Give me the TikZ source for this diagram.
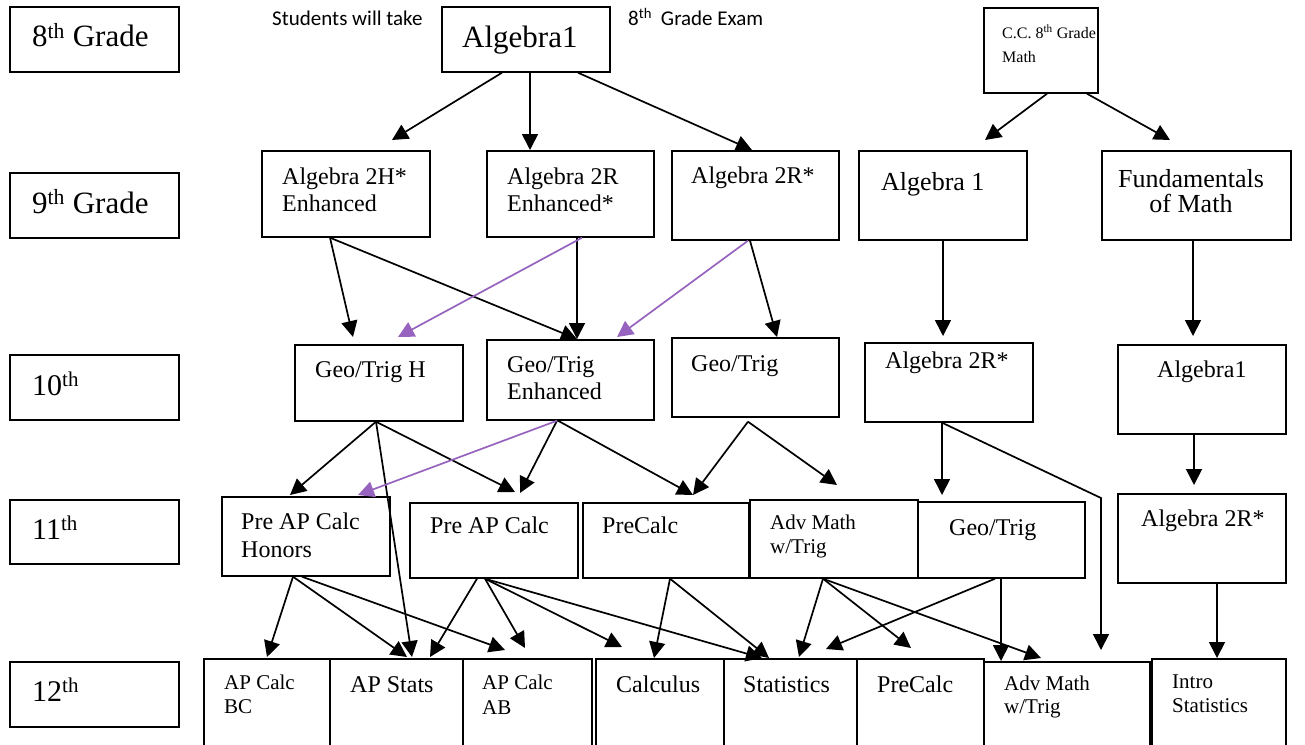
\documentclass[tikz,border=0pt]{standalone}
\usepackage{fontspec}
\setmainfont{Liberation Serif}
\newfontfamily\calfont{Carlito}
\usetikzlibrary{arrows.meta}
\definecolor{purp}{RGB}{150,100,190}
\newcommand\fs[2]{\fontsize{#1bp}{#2bp}\selectfont}
\tikzset{
  box/.style={draw, line width=1.7bp, inner sep=0pt, anchor=north west},
  lbl/.style={anchor=base west, inner sep=0pt, align=left},
  arr/.style={line width=1.7bp, -{Triangle[length=16bp,width=16bp]}},
  parr/.style={arr, color=purp},
}
\begin{document}
\begin{tikzpicture}[x=1bp,y=-1bp]
\useasboundingbox (0,0) rectangle (1305,744);
\fill[white] (0,0) rectangle (1305,744);
\clip (0,0) rectangle (1305,744);
% grade labels
\node[box, minimum width=169bp, minimum height=65bp] (g8) at (9,6) {};
\node[box, minimum width=169bp, minimum height=65bp] (g9) at (9,172) {};
\node[box, minimum width=169bp, minimum height=65bp] (g10) at (9,354) {};
\node[box, minimum width=169bp, minimum height=64bp] (g11) at (9,499) {};
\node[box, minimum width=169bp, minimum height=65bp] (g12) at (9,661) {};
\node[lbl, font=\fs{31}{34}] (tg8) at (32,47) {8\textsuperscript{th} Grade};
\node[lbl, font=\fs{31}{34}] (tg9) at (32,213) {9\textsuperscript{th} Grade};
\node[lbl, font=\fs{30}{34}] (tg10) at (32,395) {10\textsuperscript{th}};
\node[lbl, font=\fs{30}{34}] (tg11) at (32,539) {11\textsuperscript{th}};
\node[lbl, font=\fs{30}{34}] (tg12) at (32,701) {12\textsuperscript{th}};
% 8th grade row
\node[lbl, font=\calfont\fs{21}{24}] (tstud) at (272,26) {Students will take};
\node[lbl, font=\calfont\fs{21}{24}] (texam) at (628,26) {8\textsuperscript{th}\hspace{9bp}Grade Exam};
\node[box, minimum width=168bp, minimum height=65bp] (alg1) at (441,6) {};
\node[lbl, font=\fs{31}{34}] (talg1) at (462,48) {Algebra1};
\node[box, minimum width=114bp, minimum height=85bp] (cc8) at (983,7) {};
\node[lbl, font=\fs{16}{24}] (tcc8) at (1002,63) {C.C. 8\textsuperscript{th} Grade\\Math};
% 9th grade row
\node[box, minimum width=168bp, minimum height=86bp] (a2h) at (261,150) {};
\node[lbl, font=\fs{24}{27}] (ta2h) at (282,211) {Algebra 2H*\\Enhanced};
\node[box, minimum width=167bp, minimum height=86bp] (a2re) at (486,150) {};
\node[lbl, font=\fs{24}{27}] (ta2re) at (507,211) {Algebra 2R\\Enhanced*};
\node[box, minimum width=167bp, minimum height=89bp] (a2r) at (671,150) {};
\node[lbl, font=\fs{24}{28}] (ta2r) at (691,183) {Algebra 2R*};
\node[box, minimum width=168bp, minimum height=89bp] (alg1b) at (858,150) {};
\node[lbl, font=\fs{26}{28}] (talg1b) at (881,190) {Algebra 1};
\node[box, minimum width=189bp, minimum height=89bp] (fund) at (1101,150) {};
\node[anchor=base, inner sep=0pt, align=center, font=\fs{26}{25}] (tfund) at (1191,212) {Fundamentals\\of Math};
% 10th row
\node[box, minimum width=168bp, minimum height=76bp] (gth) at (294,344) {};
\node[lbl, font=\fs{24}{28}] (tgth) at (315,377) {Geo/Trig H};
\node[box, minimum width=167bp, minimum height=80bp] (gte) at (486,339) {};
\node[lbl, font=\fs{24}{27}] (tgte) at (507,399) {Geo/Trig\\Enhanced};
\node[box, minimum width=167bp, minimum height=79bp] (gt) at (671,337) {};
\node[lbl, font=\fs{24}{28}] (tgt) at (691,371) {Geo/Trig};
\node[box, minimum width=168bp, minimum height=79bp] (a2r10) at (864,342) {};
\node[lbl, font=\fs{24}{28}] (ta2r10) at (885,368) {Algebra 2R*};
\node[box, minimum width=168bp, minimum height=89bp] (alg1c) at (1117,344) {};
\node[lbl, font=\fs{24}{28}] (talg1c) at (1157,377) {Algebra1};
% 11th row
\node[box, minimum width=168bp, minimum height=79bp] (pach) at (221,496) {};
\node[lbl, font=\fs{24}{28}] (tpach) at (241,557) {Pre AP Calc\\Honors};
\node[box, minimum width=168bp, minimum height=75bp] (pac) at (409,502) {};
\node[lbl, font=\fs{24}{28}] (tpac) at (430,533) {Pre AP Calc};
\node[box, minimum width=166bp, minimum height=75bp] (pc11) at (582,502) {};
\node[lbl, font=\fs{24}{28}] (tpc11) at (602,533) {PreCalc};
\node[box, minimum width=168bp, minimum height=78bp] (am11) at (749,499) {};
\node[lbl, font=\fs{21}{24}] (tam11) at (770,553) {Adv Math\\w/Trig};
\node[box, minimum width=167bp, minimum height=76bp] (gt11) at (917,501) {};
\node[lbl, font=\fs{24}{28}] (tgt11) at (949,535) {Geo/Trig};
\node[box, minimum width=168bp, minimum height=89bp] (a2r11) at (1117,493) {};
\node[lbl, font=\fs{24}{28}] (ta2r11) at (1141,526) {Algebra 2R*};
% 12th row
\node[box, minimum width=126bp, minimum height=110bp] (bc) at (203,658) {};
\node[lbl, font=\fs{21}{24}] (tbc) at (224,713) {AP Calc\\BC};
\node[box, minimum width=133bp, minimum height=110bp] (aps) at (329,658) {};
\node[lbl, font=\fs{24}{28}] (taps) at (350,692) {AP Stats};
\node[box, minimum width=129bp, minimum height=110bp] (ab) at (462,658) {};
\node[lbl, font=\fs{21}{25}] (tab) at (482,714) {AP Calc\\AB};
\node[box, minimum width=128bp, minimum height=110bp] (calc) at (595,658) {};
\node[lbl, font=\fs{24}{28}] (tcalc) at (616,692) {Calculus};
\node[box, minimum width=133bp, minimum height=110bp] (stat) at (723,658) {};
\node[lbl, font=\fs{24}{28}] (tstat) at (743,692) {Statistics};
\node[box, minimum width=127bp, minimum height=110bp] (pc12) at (856,658) {};
\node[lbl, font=\fs{24}{28}] (tpc12) at (877,692) {PreCalc};
\node[box, minimum width=166bp, minimum height=110bp] (am12) at (983,661) {};
\node[lbl, font=\fs{21}{23}] (tam12) at (1004,713) {Adv Math\\w/Trig};
\node[box, minimum width=134bp, minimum height=110bp] (intro) at (1151,658) {};
\node[lbl, font=\fs{21}{24}] (tintro) at (1172,712) {Intro\\Statistics};
\coordinate (bend) at (1101,498);
% 8th -> 9th
\draw[arr] ([xshift=61bp]alg1.south west) -- ([xshift=131bp,yshift=10bp]a2h.north west);
\draw[arr] ([xshift=89bp]alg1.south west) -- ([xshift=44bp]a2re.north west);
\draw[arr] ([xshift=137bp]alg1.south west) -- ([xshift=81bp]a2r.north west);
\draw[arr] ([xshift=64bp]cc8.south west) -- ([xshift=127bp,yshift=10bp]alg1b.north west);
\draw[arr] ([xshift=104bp]cc8.south west) -- ([xshift=69bp,yshift=10bp]fund.north west);
% 9th -> 10th
\draw[arr] ([xshift=69bp]a2h.south west) -- ([xshift=59bp,yshift=7bp]gth.north west);
\draw[arr] ([xshift=69bp]a2h.south west) -- ([xshift=91bp]gte.north west);
\draw[arr] ([xshift=91bp]a2re.south west) -- ([xshift=91bp]gte.north west);
\draw[arr] ([xshift=79bp]a2r.south west) -- ([xshift=106bp]gt.north west);
\draw[arr] ([xshift=85bp]alg1b.south west) -- ([xshift=79bp,yshift=6bp]a2r10.north west);
\draw[arr] ([xshift=92bp]fund.south west) -- ([xshift=76bp,yshift=8bp]alg1c.north west);
\draw[parr] ([xshift=96bp]a2re.south west) -- ([xshift=104bp,yshift=7bp]gth.north west);
\draw[parr] ([xshift=77bp]a2r.south west) -- ([xshift=131bp,yshift=2bp]gte.north west);
% 10th -> 11th
\draw[arr] ([xshift=82bp]gth.south west) -- ([xshift=69bp,yshift=1bp]pach.north west);
\draw[arr] ([xshift=82bp]gth.south west) -- ([xshift=83bp,yshift=1bp]aps.north west);
\draw[arr] ([xshift=82bp]gth.south west) -- ([xshift=106bp,yshift=10bp]pac.north west);
\draw[arr] ([xshift=71bp]gte.south west) -- ([xshift=111bp,yshift=9bp]pac.north west);
\draw[arr] ([xshift=72bp]gte.south west) -- ([xshift=111bp,yshift=7bp]pc11.north west);
\draw[arr] ([xshift=77bp,yshift=-4bp]gt.south west) -- ([xshift=111bp,yshift=7bp]pc11.north west);
\draw[arr] ([xshift=77bp,yshift=-4bp]gt.south west) -- ([xshift=88bp,yshift=14bp]am11.north west);
\draw[arr] ([xshift=78bp]a2r10.south west) -- ([xshift=25bp,yshift=6bp]gt11.north west);
\draw[arr] ([xshift=78bp]a2r10.south west) -- (bend) -- ([xshift=118bp,yshift=11bp]am12.north west);
\draw[arr] ([xshift=77bp]alg1c.south west) -- ([xshift=77bp,yshift=8bp]a2r11.north west);
\draw[parr] ([xshift=71bp]gte.south west) -- ([xshift=137bp,yshift=1bp]pach.north west);
% 11th -> 12th
\draw[arr] ([xshift=100bp]a2r11.south west) -- ([xshift=66bp]intro.north west);
\draw[arr] ([xshift=72bp]pach.south west) -- ([xshift=64bp,yshift=1bp]bc.north west);
\draw[arr] ([xshift=72bp]pach.south west) -- ([xshift=78bp,yshift=1bp]aps.north west);
\draw[arr] ([xshift=81bp]pach.south west) -- ([xshift=43bp,yshift=8bp]ab.north west);
\draw[arr] ([xshift=68bp]pac.south west) -- ([xshift=101bp,yshift=1bp]aps.north west);
\draw[arr] ([xshift=76bp]pac.south west) -- ([xshift=63bp,yshift=10bp]ab.north west);
\draw[arr] ([xshift=76bp]pac.south west) -- ([xshift=27bp,yshift=11bp]calc.north west);
\draw[arr] ([xshift=76bp]pac.south west) -- ([xshift=39bp]stat.north west);
\draw[arr] ([xshift=88bp]pc11.south west) -- ([xshift=59bp]calc.north west);
\draw[arr] ([xshift=88bp]pc11.south west) -- ([xshift=46bp]stat.north west);
\draw[arr] ([xshift=74bp]am11.south west) -- ([xshift=76bp,yshift=1bp]stat.north west);
\draw[arr] ([xshift=74bp]am11.south west) -- ([xshift=55bp,yshift=10bp]pc12.north west);
\draw[arr] ([xshift=74bp]am11.south west) -- ([xshift=58bp,yshift=3bp]am12.north west);
\draw[arr] ([xshift=78bp]gt11.south west) -- ([xshift=103bp,yshift=9bp]stat.north west);
\draw[arr] ([xshift=84bp]gt11.south west) -- ([xshift=18bp]am12.north west);
\end{tikzpicture}
\end{document}
